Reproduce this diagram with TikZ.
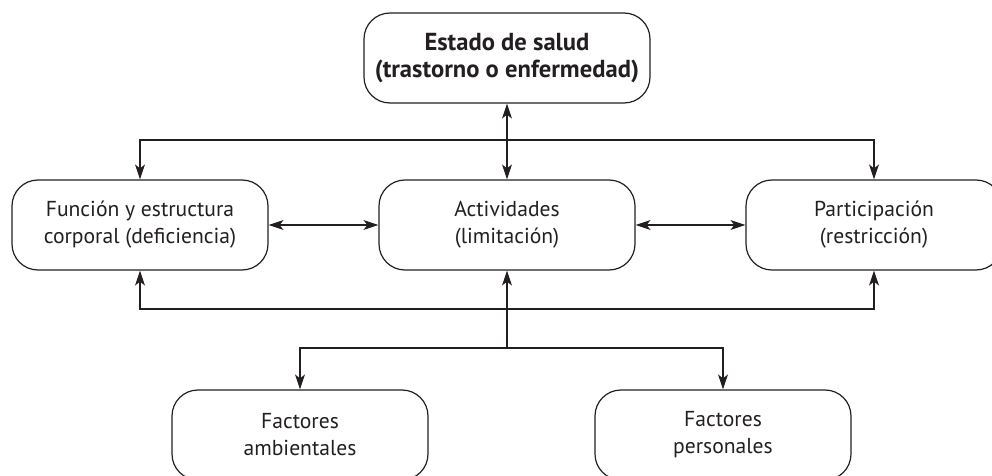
\documentclass[tikz,border=0pt]{standalone}
\usepackage{fontspec}
\setmainfont{PT Sans}
\usepackage{tikz}
\usetikzlibrary{arrows.meta,positioning}
\definecolor{ink}{RGB}{35,31,32}
\tikzset{
	block/.style    = {draw=ink, text=ink, rounded corners=13pt, align=center,
		minimum width=128pt, minimum height=45pt, inner sep=0pt,
		font=\fontsize{10.8}{13.5}\selectfont},
	topblock/.style = {block, minimum width=143pt, font=\fontsize{12.3}{13.5}\selectfont\bfseries},
	link/.style     = {draw=ink, line width=0.6pt}
}
\begin{document}
\begin{tikzpicture}[x=0.5pt, y=-0.5pt, line width=0.6pt,
	>={Stealth[length=7.5pt, width=5pt, inset=2pt]}]
		\useasboundingbox (0,0) rectangle (992,476);
		% Drawing the boxes
		\node at (507,58) [topblock] (salud) {Estado de salud\\(trastorno o enfermedad)};
		\node at (140,225) [block] (funcion) {Función y estructura\\corporal (deficiencia)};
		\node at (507,225) [block] (activ) {Actividades\\(limitación)};
		\node at (874,225) [block] (partic) {Participación\\(restricción)};
		\node at (300,435) [block] (ambient) {Factores\\ambientales};
		\node at (723,435) [block] (personal) {Factores\\personales};
		
		% Branch points
		\coordinate (upper) at (507,140);
		\coordinate (lower) at (507,309);
		\coordinate (branch) at (507,348);
		
		% Connectors
		\draw[link,<->] (salud) -- (activ);
		\draw[link,->] (upper) -| (funcion);
		\draw[link,->] (upper) -| (partic);
		\draw[link,<->] (funcion) -- (activ);
		\draw[link,<->] (activ) -- (partic);
		\draw[link,->] (lower) -| (funcion);
		\draw[link,->] (lower) -| (partic);
		\draw[link,->] (branch) -- (activ);
		\draw[link,->] (branch) -| (ambient);
		\draw[link,->] (branch) -| (personal);
		
\end{tikzpicture}
\end{document}
